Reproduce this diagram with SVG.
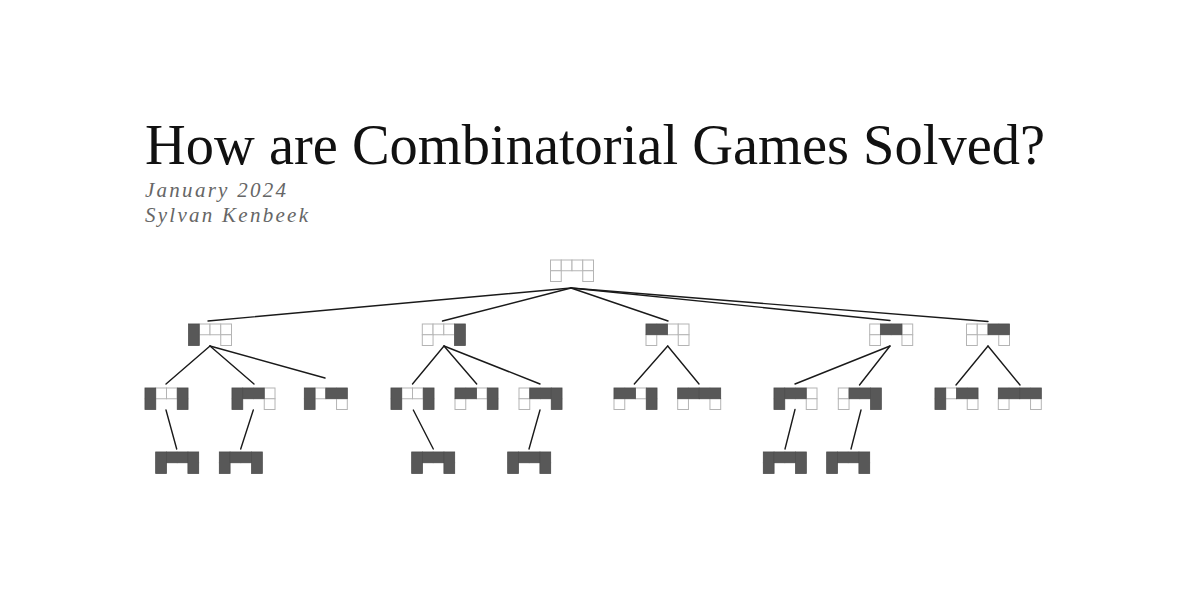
<svg xmlns="http://www.w3.org/2000/svg" xmlns:xlink="http://www.w3.org/1999/xlink" width="1187" height="600" viewBox="0 0 1187 600">
<style>
.title{font-family:"Liberation Serif","Times New Roman",serif;font-size:56.5px;fill:#111}
.sub{font-family:"Liberation Serif","Times New Roman",serif;font-style:italic;font-size:21px;fill:#666}
.cell{fill:#fff;stroke:#b4b4b4;stroke-width:1}
.dom{fill:#585858;stroke:#4a4a4a;stroke-width:0.6}
.edges line{stroke:#1a1a1a;stroke-width:1.4;stroke-linecap:round}
</style>
<defs>
<g id="board">
<rect class="cell" x="0" y="0" width="10.75" height="10.75"/>
<rect class="cell" x="10.75" y="0" width="10.75" height="10.75"/>
<rect class="cell" x="21.5" y="0" width="10.75" height="10.75"/>
<rect class="cell" x="32.25" y="0" width="10.75" height="10.75"/>
<rect class="cell" x="0" y="10.75" width="10.75" height="10.75"/>
<rect class="cell" x="32.25" y="10.75" width="10.75" height="10.75"/>
</g>
<rect id="dL" class="dom" x="0" y="0" width="10.75" height="21.5"/>
<rect id="dR" class="dom" x="32.25" y="0" width="10.75" height="21.5"/>
<rect id="h01" class="dom" x="0" y="0" width="21.5" height="10.75"/>
<rect id="h12" class="dom" x="10.75" y="0" width="21.5" height="10.75"/>
<rect id="h23" class="dom" x="21.5" y="0" width="21.5" height="10.75"/>
</defs>
<rect width="1187" height="600" fill="#fff"/>
<g id="header">
<text class="title" x="145" y="163.5" textLength="900" lengthAdjust="spacingAndGlyphs">How are Combinatorial Games Solved?</text>
<text class="sub" x="145" y="197" textLength="141" lengthAdjust="spacing">January 2024</text>
<text class="sub" x="145" y="222" textLength="163" lengthAdjust="spacing">Sylvan Kenbeek</text>
</g>
<g class="edges" id="edges">
<line x1="571" y1="288" x2="208" y2="321"/>
<line x1="571" y1="288" x2="442.5" y2="321"/>
<line x1="571" y1="288" x2="668" y2="321"/>
<line x1="571" y1="288" x2="890" y2="320.5"/>
<line x1="571" y1="288" x2="988" y2="321.5"/>
<line x1="210" y1="346" x2="166" y2="384"/>
<line x1="210" y1="346" x2="254" y2="384"/>
<line x1="210" y1="346" x2="325" y2="378"/>
<line x1="444" y1="346" x2="412.5" y2="384"/>
<line x1="444" y1="346" x2="476.7" y2="384"/>
<line x1="444" y1="346" x2="540" y2="384"/>
<line x1="667.7" y1="346" x2="634.3" y2="384"/>
<line x1="667.7" y1="346" x2="699" y2="384"/>
<line x1="890" y1="346" x2="795" y2="384"/>
<line x1="890" y1="346" x2="859.5" y2="385"/>
<line x1="988" y1="346" x2="956" y2="385"/>
<line x1="988" y1="346" x2="1020" y2="385"/>
<line x1="166" y1="410" x2="176.7" y2="449"/>
<line x1="253.3" y1="410" x2="240.7" y2="449"/>
<line x1="413.3" y1="410" x2="433.3" y2="449"/>
<line x1="540" y1="410" x2="529" y2="449"/>
<line x1="795" y1="409.5" x2="785" y2="449"/>
<line x1="861" y1="410" x2="851" y2="449"/>
</g>
<g id="root" transform="translate(550.5,260)"><use xlink:href="#board"/></g>
<g id="n1" transform="translate(188.5,324)"><use xlink:href="#board"/><use xlink:href="#dL"/></g>
<g id="n2" transform="translate(422.3,324)"><use xlink:href="#board"/><use xlink:href="#dR"/></g>
<g id="n3" transform="translate(646,324)"><use xlink:href="#board"/><use xlink:href="#h01"/></g>
<g id="n4" transform="translate(869.7,324)"><use xlink:href="#board"/><use xlink:href="#h12"/></g>
<g id="n5" transform="translate(966.5,324)"><use xlink:href="#board"/><use xlink:href="#h23"/></g>
<g id="n1a" transform="translate(145,388)"><use xlink:href="#board"/><use xlink:href="#dL"/><use xlink:href="#dR"/></g>
<g id="n1b" transform="translate(232,388)"><use xlink:href="#board"/><use xlink:href="#dL"/><use xlink:href="#h12"/></g>
<g id="n1c" transform="translate(304.3,388)"><use xlink:href="#board"/><use xlink:href="#dL"/><use xlink:href="#h23"/></g>
<g id="n2a" transform="translate(391,388)"><use xlink:href="#board"/><use xlink:href="#dL"/><use xlink:href="#dR"/></g>
<g id="n2b" transform="translate(455,388)"><use xlink:href="#board"/><use xlink:href="#h01"/><use xlink:href="#dR"/></g>
<g id="n2c" transform="translate(519,388)"><use xlink:href="#board"/><use xlink:href="#h12"/><use xlink:href="#dR"/></g>
<g id="n3a" transform="translate(614,388)"><use xlink:href="#board"/><use xlink:href="#h01"/><use xlink:href="#dR"/></g>
<g id="n3b" transform="translate(677.7,388)"><use xlink:href="#board"/><use xlink:href="#h01"/><use xlink:href="#h23"/></g>
<g id="n4a" transform="translate(774,388)"><use xlink:href="#board"/><use xlink:href="#dL"/><use xlink:href="#h12"/></g>
<g id="n4b" transform="translate(838.3,388)"><use xlink:href="#board"/><use xlink:href="#h12"/><use xlink:href="#dR"/></g>
<g id="n5a" transform="translate(935,388)"><use xlink:href="#board"/><use xlink:href="#dL"/><use xlink:href="#h23"/></g>
<g id="n5b" transform="translate(998.3,388)"><use xlink:href="#board"/><use xlink:href="#h01"/><use xlink:href="#h23"/></g>
<g id="n1a1" transform="translate(155.7,452)"><use xlink:href="#board"/><use xlink:href="#dL"/><use xlink:href="#h12"/><use xlink:href="#dR"/></g>
<g id="n1b1" transform="translate(219.3,452)"><use xlink:href="#board"/><use xlink:href="#dL"/><use xlink:href="#h12"/><use xlink:href="#dR"/></g>
<g id="n2a1" transform="translate(411.7,452)"><use xlink:href="#board"/><use xlink:href="#dL"/><use xlink:href="#h12"/><use xlink:href="#dR"/></g>
<g id="n2c1" transform="translate(507.7,452)"><use xlink:href="#board"/><use xlink:href="#dL"/><use xlink:href="#h12"/><use xlink:href="#dR"/></g>
<g id="n4a1" transform="translate(763.3,452)"><use xlink:href="#board"/><use xlink:href="#dL"/><use xlink:href="#h12"/><use xlink:href="#dR"/></g>
<g id="n4b1" transform="translate(826.7,452)"><use xlink:href="#board"/><use xlink:href="#dL"/><use xlink:href="#h12"/><use xlink:href="#dR"/></g>
</svg>
